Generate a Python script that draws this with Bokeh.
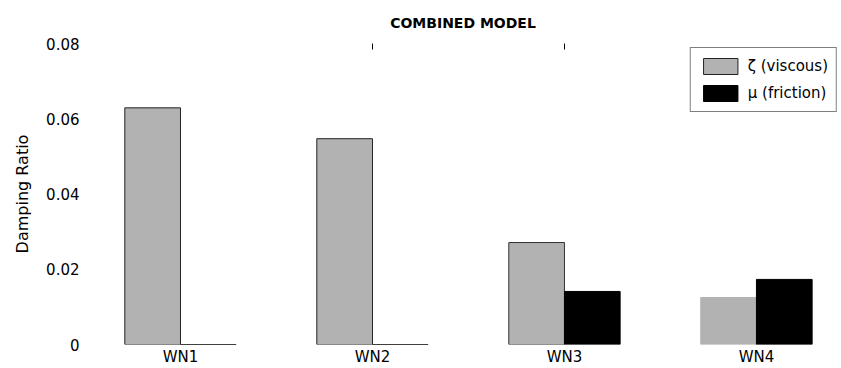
from bokeh.plotting import figure
from bokeh.models import (ColumnDataSource, FixedTicker, LinearAxis, Range1d,
                          Legend, LegendItem, Title)
from bokeh.embed import file_html
from bokeh.resources import INLINE

# Mode labels and damping ratios per model component
modes = ["WN1", "WN2", "WN3", "WN4"]
viscous = [0.0629, 0.0547, 0.0271, 0.0125]
friction = [0.0, 0.0, 0.0141, 0.0173]
y_ticks = [0, 0.02, 0.04, 0.06, 0.08]

FONT = "DejaVu Sans"
GRAY = "#b2b2b2"
bar_w = 0.29
pos = list(range(1, len(modes) + 1))

src_v = ColumnDataSource(dict(x=[p - bar_w / 2 for p in pos], top=viscous,
                              edge=["#222222", "#222222", "#333333", GRAY]))
src_f = ColumnDataSource(dict(x=[p + bar_w / 2 for p in pos], top=friction))

p = figure(width=841, height=368, output_backend="svg", toolbar_location=None,
           x_range=Range1d(0.5, 4.443), y_range=Range1d(0, 0.08),
           min_border_left=84, min_border_right=0, min_border_bottom=24,
           min_border_top=42, outline_line_color=None)
p.xgrid.visible = False
p.ygrid.visible = False

rv = p.vbar(x="x", top="top", width=bar_w, bottom=0, source=src_v,
            fill_color=GRAY, line_color="edge", line_width=1)
rf = p.vbar(x="x", top="top", width=bar_w, bottom=0, source=src_f,
            fill_color="black", line_color="black", line_width=1)

# bottom x axis: mode names, no line or ticks
xa = p.below[0]
xa.ticker = FixedTicker(ticks=pos)
xa.major_label_overrides = {p_: m for p_, m in zip(pos, modes)}
xa.axis_line_color = None
xa.major_tick_line_color = None
xa.major_tick_out = 0
xa.minor_tick_line_color = None
xa.major_label_standoff = 3
xa.major_label_text_font = FONT
xa.major_label_text_font_size = "15px"
xa.major_label_text_color = "black"

# short inward ticks along the top edge (thin panel, no labels)
top_axis = LinearAxis(ticker=FixedTicker(ticks=[2, 3]), axis_line_color=None,
                      major_tick_in=6, major_tick_out=0,
                      major_tick_line_color="black", minor_tick_line_color=None,
                      major_label_overrides={2: "", 3: ""},
                      major_label_text_color=None, major_label_text_font_size="1px",
                      major_label_standoff=0)
p.add_layout(top_axis, "above")

p.add_layout(Title(text="COMBINED MODEL", align="center", text_font=FONT,
                   text_font_size="14px", text_font_style="bold",
                   text_line_height=0.9, text_color="black",
                   offset=0, standoff=25), "above")

# y axis
ya = p.left[0]
ya.ticker = FixedTicker(ticks=y_ticks)
ya.major_label_overrides = {0: "0"}
ya.axis_line_color = None
ya.major_tick_line_color = None
ya.major_tick_out = 0
ya.minor_tick_line_color = None
ya.major_label_standoff = 5
ya.major_label_text_font = FONT
ya.major_label_text_font_size = "15px"
ya.major_label_text_color = "black"
ya.axis_label = "Damping Ratio"
ya.axis_label_text_font = FONT
ya.axis_label_text_font_size = "16px"
ya.axis_label_text_font_style = "normal"
ya.axis_label_text_color = "black"
ya.axis_label_standoff = 11

legend = Legend(items=[LegendItem(label="ζ (viscous)", renderers=[rv]),
                       LegendItem(label="μ (friction)", renderers=[rf])],
                location="top_right", margin=4, padding=8, spacing=7,
                glyph_width=43, glyph_height=20, label_standoff=6,
                label_text_font=FONT, label_text_font_size="15px",
                label_text_color="black",
                border_line_color="black", border_line_width=1,
                background_fill_alpha=1.0)
p.add_layout(legend)

html = file_html(p, INLINE)
open("out.html", "w").write(html)
